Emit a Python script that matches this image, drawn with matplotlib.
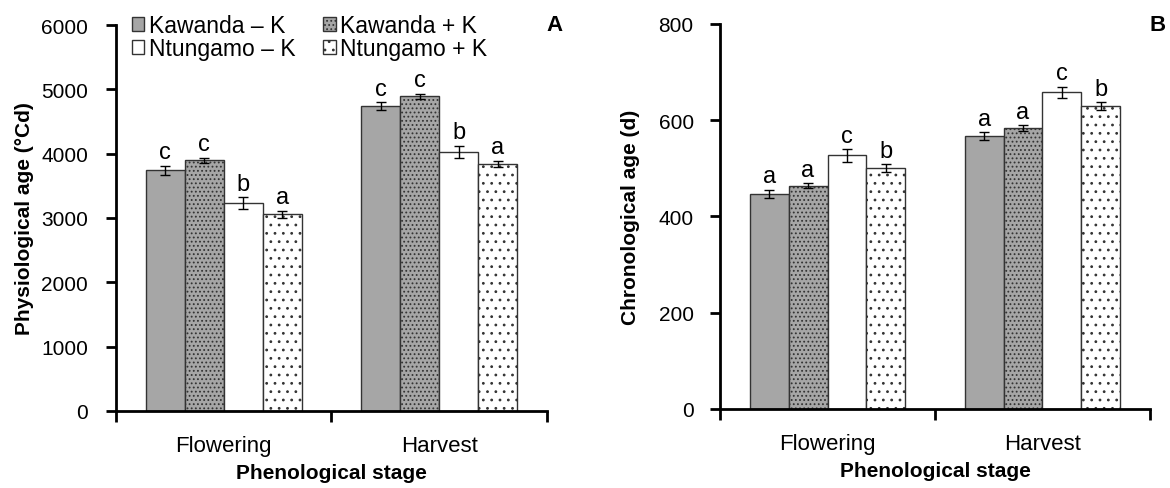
import matplotlib
matplotlib.use("Agg")
import matplotlib.pyplot as plt
import numpy as np

plt.rcParams['font.family'] = ['Liberation Sans', 'DejaVu Sans']
plt.rcParams['hatch.linewidth'] = 0.8

stages = ["Flowering", "Harvest"]
series = ["Kawanda \u2013 K", "Kawanda + K", "Ntungamo \u2013 K", "Ntungamo + K"]

# panel A: physiological age (degree days)
phys = [[3740, 4740], [3900, 4890], [3235, 4030], [3055, 3840]]
phys_err = [[70, 60], [40, 40], [90, 90], [60, 50]]
phys_sig = [["c", "c"], ["c", "c"], ["b", "b"], ["a", "a"]]

# panel B: chronological age (days)
chron = [[447, 567], [464, 584], [527, 658], [501, 630]]
chron_err = [[9, 8], [5, 6], [13, 12], [8, 8]]
chron_sig = [["a", "a"], ["a", "a"], ["c", "c"], ["b", "b"]]

faces = ["#a6a6a6", "#a6a6a6", "white", "white"]
hatches = [None, "....", None, ".."]

fig = plt.figure(figsize=(11.7, 4.89), dpi=100)
axA = fig.add_axes([0.0991, 0.1575, 0.3684, 0.7893])
axB = fig.add_axes([0.6154, 0.1616, 0.3675, 0.7873])

w = 0.181
x = np.arange(len(stages))


def draw(ax, vals, errs, sigs, ymax, ystep, ylabel, off, ypad, lx):
    bars = []
    for i in range(4):
        pos = x + (i - 1.5) * w
        b = ax.bar(pos, vals[i], w, color=faces[i], edgecolor="#333333",
                   linewidth=1.0, hatch=hatches[i], label=series[i])
        ax.errorbar(pos, vals[i], yerr=errs[i], fmt="none", ecolor="black",
                    elinewidth=1, capsize=3.5, capthick=1)
        for p, v, e, s in zip(pos, vals[i], errs[i], sigs[i]):
            ax.text(p, v + e + off, s, ha="center", va="bottom", fontsize=17)
        bars.append(b)
    ax.set_xlim(-0.5, 1.5)
    ax.set_ylim(0, ymax)
    ax.set_yticks(np.arange(0, ymax + 1, ystep))
    ax.set_xticks([-0.5, 0.5, 1.5])
    ax.set_xticklabels([])
    ax.set_xticks(x, minor=True)
    ax.set_xticklabels(stages, minor=True, fontsize=16)
    ax.tick_params(axis="x", which="major", length=8, width=2, direction="out")
    ax.tick_params(axis="x", which="minor", length=0, pad=17)
    ax.tick_params(axis="y", length=7, width=2, direction="out", labelsize=15, pad=ypad)
    for sp in ["top", "right"]:
        ax.spines[sp].set_visible(False)
    for sp in ["left", "bottom"]:
        ax.spines[sp].set_linewidth(2)
    ax.set_ylabel(ylabel, fontsize=15, fontweight="bold")
    ax.yaxis.set_label_coords(lx, 0.5)
    ax.set_xlabel("Phenological stage", fontsize=15, fontweight="bold", labelpad=5)
    return bars


bars = draw(axA, phys, phys_err, phys_sig, 6000, 1000, "Physiological age (\u00b0Cd)", 40, 13, -0.19)
draw(axB, chron, chron_err, chron_sig, 800, 200, "Chronological age (d)", 5, 12, -0.185)

fig.text(0.474, 0.947, "A", fontsize=16, fontweight="bold", ha="center", va="center")
fig.text(0.989, 0.947, "B", fontsize=16, fontweight="bold", ha="center", va="center")

# legend fills columns first, so order handles to give the reference's rows
order = [0, 2, 1, 3]
fig.legend(handles=[bars[i] for i in order], labels=[series[i] for i in order],
           loc="upper left", bbox_to_anchor=(0.095, 1.012), ncol=2,
           frameon=False, fontsize=16.5, handlelength=0.55, handleheight=0.55,
           handletextpad=0.2, columnspacing=1.2, labelspacing=0.0)

fig.savefig("out.png", dpi=100)
